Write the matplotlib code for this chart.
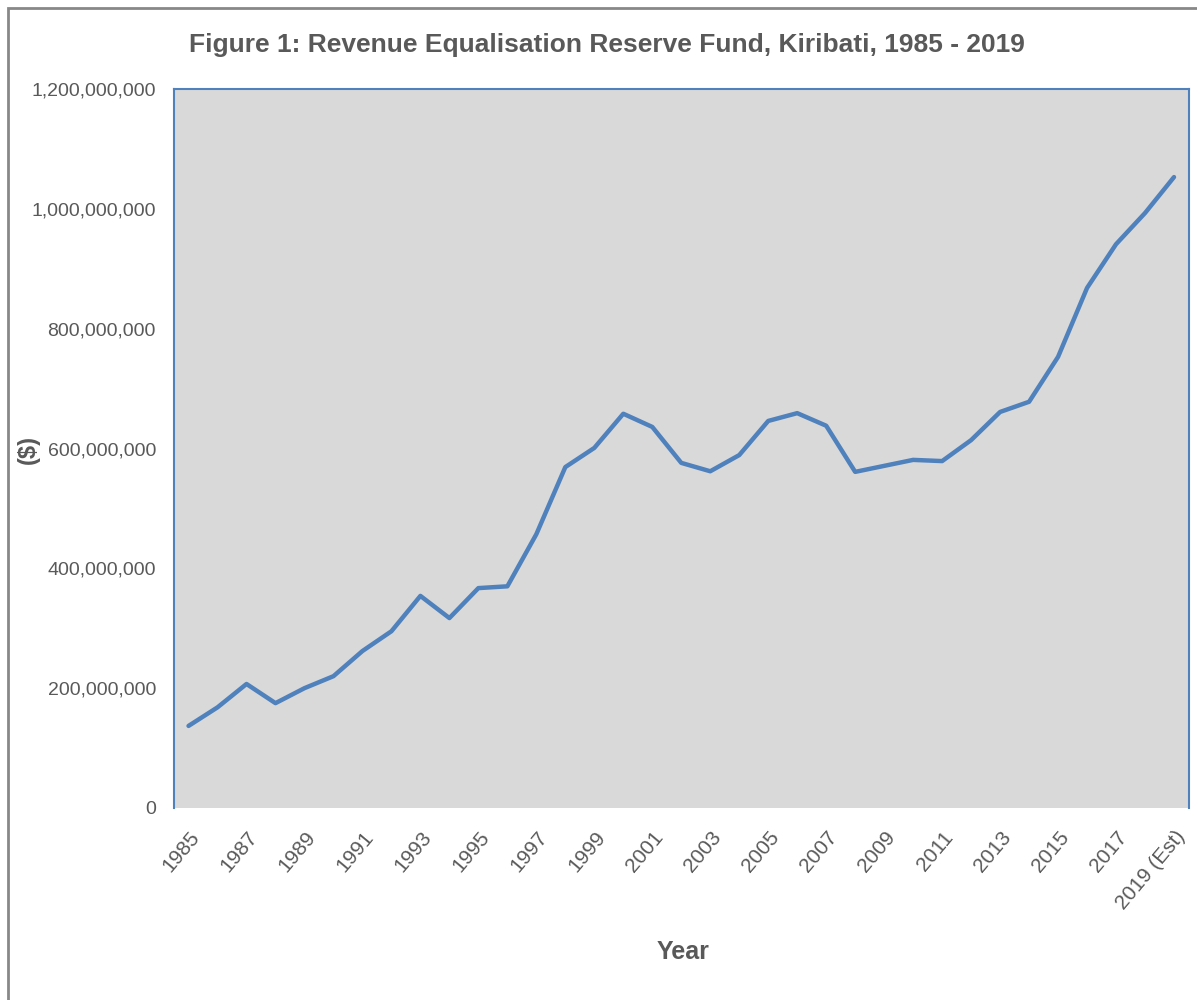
import matplotlib.pyplot as plt
from matplotlib.patches import Rectangle
from matplotlib.ticker import FuncFormatter

years = ['1985', '1986', '1987', '1988', '1989', '1990', '1991', '1992', '1993',
         '1994', '1995', '1996', '1997', '1998', '1999', '2000', '2001', '2002',
         '2003', '2004', '2005', '2006', '2007', '2008', '2009', '2010', '2011',
         '2012', '2013', '2014', '2015', '2016', '2017', '2018', '2019 (Est)']
# fund balance, $
fund = [137e6, 168e6, 207e6, 175e6, 200e6, 220e6, 262e6, 295e6, 354e6,
        317e6, 367e6, 370e6, 457e6, 569e6, 601e6, 658e6, 636e6, 576e6,
        562e6, 589e6, 646e6, 659e6, 638e6, 561e6, 571e6, 581e6, 579e6,
        614e6, 661e6, 678e6, 753e6, 868e6, 941e6, 993e6, 1053e6]

grey_txt = '#595959'
blue = '#4F81BD'

fig = plt.figure(figsize=(11.97, 10), dpi=100)
ax = fig.add_axes([0.1454, 0.192, 0.8475, 0.719])

x = list(range(len(years)))
ax.plot(x, fund, color=blue, lw=3.2, solid_capstyle='round', solid_joinstyle='round')

ax.set_facecolor('#D9D9D9')
ax.set_xlim(-0.5, len(years) - 0.5)
ax.set_ylim(0, 1.2e9)
ax.set_yticks([0, 2e8, 4e8, 6e8, 8e8, 1e9, 1.2e9])
ax.yaxis.set_major_formatter(FuncFormatter(lambda v, p: f'{int(v):,}'))
ax.set_xticks(x[::2])
ax.set_xticklabels(years[::2], rotation=50, ha='right', rotation_mode='anchor')

ax.tick_params(axis='y', length=0, labelsize=14, labelcolor=grey_txt, pad=13)
ax.tick_params(axis='x', length=0, labelsize=15, labelcolor=grey_txt, pad=14)
for t in ax.get_xticklabels() + ax.get_yticklabels():
    t.set_family(['Liberation Sans', 'DejaVu Sans'])

for s in ['left', 'top', 'right']:
    ax.spines[s].set_color(blue)
    ax.spines[s].set_linewidth(1.5)
ax.spines['bottom'].set_visible(False)

narrow = ['Liberation Sans Narrow', 'Liberation Sans', 'DejaVu Sans']
fig.text(0.507, 0.955, 'Figure 1: Revenue Equalisation Reserve Fund, Kiribati, 1985 - 2019',
         ha='center', va='center', fontsize=19, fontweight='bold', color=grey_txt, family=narrow)
fig.text(0.571, 0.048, 'Year', ha='center', va='center', fontsize=18,
         fontweight='bold', color=grey_txt, family=narrow)
fig.text(0.024, 0.55, '($)', ha='center', va='center', rotation=90, fontsize=17,
         fontweight='bold', color=grey_txt, family=narrow)

# outer chart border
fig.patches.append(Rectangle((0.0065, -0.05), 1.1, 1.042, transform=fig.transFigure,
                             fill=False, edgecolor='#888888', lw=2))

fig.savefig('out.png', dpi=100)
